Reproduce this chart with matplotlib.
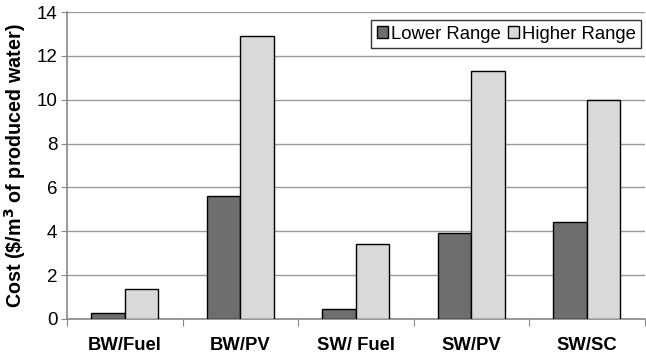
import matplotlib
matplotlib.use("Agg")
import matplotlib.pyplot as plt
import numpy as np

plt.rcParams["font.family"] = ["Liberation Sans", "DejaVu Sans"]

categories = ["BW/Fuel", "BW/PV", "SW/ Fuel", "SW/PV", "SW/SC"]
lower_range = [0.27, 5.6, 0.45, 3.9, 4.4]
higher_range = [1.35, 12.9, 3.4, 11.3, 10.0]

fig = plt.figure(figsize=(6.46, 3.54), dpi=100)
ax = fig.add_axes([0.104, 0.099, 0.894, 0.867])

x = np.arange(len(categories))
w = 0.29
ax.bar(x - w / 2, lower_range, w, color="#6e6e70", edgecolor="black", linewidth=1.0,
       label="Lower Range", zorder=3)
ax.bar(x + w / 2, higher_range, w, color="#d9d9db", edgecolor="black", linewidth=1.0,
       label="Higher Range", zorder=3)

ax.set_xlim(-0.5, len(categories) - 0.5)
ax.set_ylim(0, 14)
ax.set_yticks(range(0, 15, 2))
ax.tick_params(axis="y", labelsize=13.5, length=4, color="#888888", pad=3)
ax.yaxis.grid(True, color="#999999", linewidth=1.0, zorder=0)

# category labels between boundary ticks
ax.set_xticks(np.arange(-0.5, len(categories), 1.0))
ax.set_xticklabels([])
ax.set_xticks(x, minor=True)
ax.set_xticklabels(categories, minor=True, fontsize=13.3, fontweight="bold")
ax.tick_params(axis="x", which="major", length=5, color="#888888")
ax.tick_params(axis="x", which="minor", length=0, pad=13)

for s in ["top", "right"]:
    ax.spines[s].set_visible(False)
for s in ["left", "bottom"]:
    ax.spines[s].set_color("#888888")
    ax.spines[s].set_linewidth(1.2)

ax.set_ylabel("Cost (\\$/m$^\\mathbf{3}$ of produced water)", fontsize=14.2, fontweight="bold",
              labelpad=6)

leg = ax.legend(loc="upper right", bbox_to_anchor=(1.0, 0.985), ncol=2, fontsize=13.3,
                frameon=True, fancybox=False, edgecolor="black", handlelength=0.6,
                handleheight=0.6, handletextpad=0.15, columnspacing=0.4,
                borderpad=0.3, borderaxespad=0.2)
leg.get_frame().set_linewidth(1.0)

fig.savefig("out.png", dpi=100)
